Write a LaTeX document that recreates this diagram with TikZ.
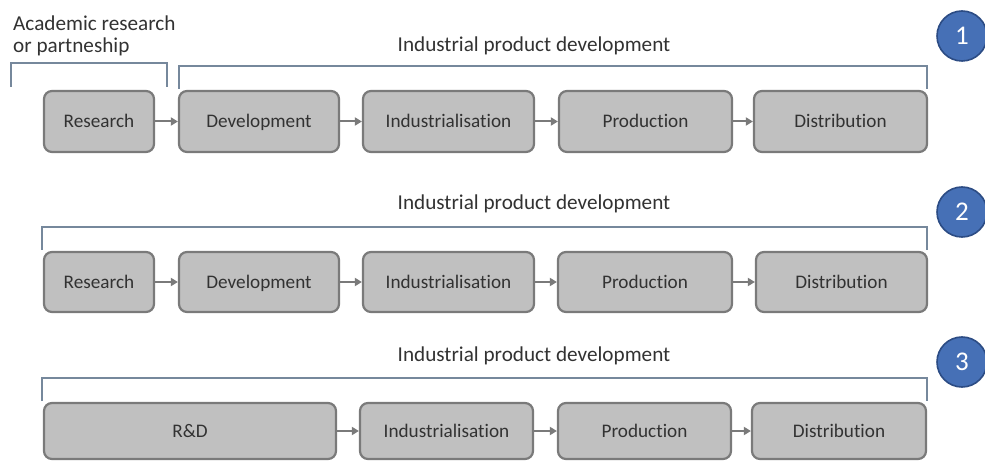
\documentclass[tikz,border=0pt]{standalone}
\usepackage{fontspec}
\setmainfont{Carlito}[Ligatures={NoCommon}]
\usetikzlibrary{arrows.meta}
\definecolor{boxfill}{RGB}{192,192,192}
\definecolor{boxborder}{RGB}{122,122,122}
\definecolor{txt}{RGB}{50,50,50}
\definecolor{brk}{RGB}{118,136,156}
\definecolor{circfill}{RGB}{70,112,182}
\definecolor{circborder}{RGB}{44,76,132}
\tikzset{
  stagebox/.style={draw=boxborder, fill=boxfill, line width=2.2pt, rounded corners=8pt,
    text=txt, font=\fontsize{19.2}{21}\selectfont, inner sep=0pt, text height=12.4pt, text depth=0pt},
  flow/.style={draw=boxborder, line width=2pt, -{Triangle[length=7pt,width=8pt]}},
  bracket/.style={draw=brk, line width=1.6pt},
  heading/.style={text=txt, font=\fontsize{21.2}{23}\selectfont, inner sep=0pt},
  numcircle/.style={circle, fill=circfill, draw=circborder, line width=1.6pt, minimum size=50pt,
    inner sep=0pt, text=white, font=\fontsize{27}{29}\selectfont}
}
\begin{document}
\begin{tikzpicture}[x=1pt,y=-1pt]
\useasboundingbox (0,0) rectangle (985,462);
% ---------- Row 1 ----------
\node[heading, anchor=base west] (acad1) at (13,31) {Academic research};
\node[heading, anchor=base west] (acad2) at (13,53) {or partneship};
\node[heading, anchor=base] (t1) at (534,52) {Industrial product development};
\draw[bracket] (11,87) -- (11,63) -- (167,63) -- (167,87);
\draw[bracket] (179,89) -- (179,66) -- (927,66) -- (927,89);
\node[stagebox, minimum width=110, minimum height=61] (r1a) at (99,121.5) {Research};
\node[stagebox, minimum width=160, minimum height=61] (r1b) at (259,121.5) {Development};
\node[stagebox, minimum width=171, minimum height=61] (r1c) at (448.5,121.5) {Industrialisation};
\node[stagebox, minimum width=173, minimum height=61] (r1d) at (645.5,121.5) {Production};
\node[stagebox, minimum width=173, minimum height=61] (r1e) at (840.5,121.5) {Distribution};
\draw[flow] (r1a) -- (r1b);
\draw[flow] (r1b) -- (r1c);
\draw[flow] (r1c) -- (r1d);
\draw[flow] (r1d) -- (r1e);
\node[numcircle] (c1) at (962,36) {1};
% ---------- Row 2 ----------
\node[heading, anchor=base] (t2) at (534,210) {Industrial product development};
\draw[bracket] (42,250) -- (42,227) -- (927,227) -- (927,250);
\node[stagebox, minimum width=110, minimum height=60] (r2a) at (99,282) {Research};
\node[stagebox, minimum width=160, minimum height=60] (r2b) at (259,282) {Development};
\node[stagebox, minimum width=171, minimum height=60] (r2c) at (448.5,282) {Industrialisation};
\node[stagebox, minimum width=174, minimum height=60] (r2d) at (645,282) {Production};
\node[stagebox, minimum width=171, minimum height=60] (r2e) at (841.5,282) {Distribution};
\draw[flow] (r2a) -- (r2b);
\draw[flow] (r2b) -- (r2c);
\draw[flow] (r2c) -- (r2d);
\draw[flow] (r2d) -- (r2e);
\node[numcircle] (c2) at (962,212) {2};
% ---------- Row 3 ----------
\node[heading, anchor=base] (t3) at (534,361) {Industrial product development};
\draw[bracket] (42,401) -- (42,378) -- (927,378) -- (927,401);
\node[stagebox, minimum width=292, minimum height=56] (r3a) at (190,431) {R\&D};
\node[stagebox, minimum width=173, minimum height=56] (r3b) at (446.5,431) {Industrialisation};
\node[stagebox, minimum width=173, minimum height=56] (r3c) at (644.5,431) {Production};
\node[stagebox, minimum width=174, minimum height=56] (r3d) at (839,431) {Distribution};
\draw[flow] (r3a) -- (r3b);
\draw[flow] (r3b) -- (r3c);
\draw[flow] (r3c) -- (r3d);
\node[numcircle] (c3) at (962,362) {3};
\end{tikzpicture}
\end{document}
